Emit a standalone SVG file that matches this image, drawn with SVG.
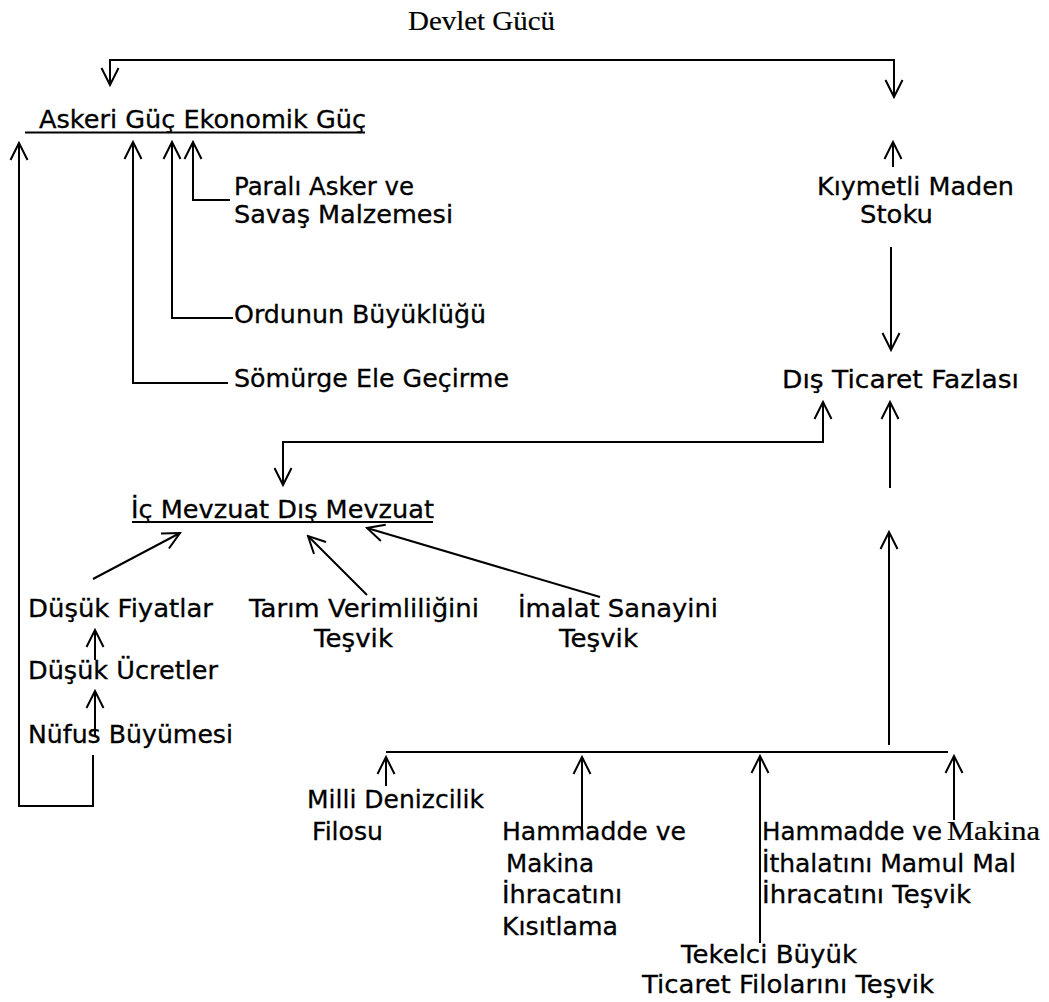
<svg xmlns="http://www.w3.org/2000/svg" width="1049" height="1002" viewBox="0 0 1049 1002">
<style>
.t{font-family:"DejaVu Sans",Verdana,sans-serif;font-size:24px;fill:#000;stroke:#000;stroke-width:0.3}
.s{font-family:"Liberation Serif","Times New Roman",serif;font-size:27px;fill:#000;stroke:#000;stroke-width:0.2}
.c{fill:none;stroke:#000;stroke-width:2}
</style>
<defs>
<marker id="ah" viewBox="0 0 20 20" refX="18" refY="10" markerWidth="20" markerHeight="20" markerUnits="userSpaceOnUse" orient="auto-start-reverse">
<path d="M1,1.5 L18,10 L1,18.5" fill="none" stroke="#000" stroke-width="2"/>
</marker>
</defs>
<rect width="1049" height="1002" fill="#fff"/>
<g id="connectors" class="c">
<path d="M110,85 L110,60 L894,60 L894,97" marker-start="url(#ah)" marker-end="url(#ah)"/>
<path d="M893,167 L893,142" marker-end="url(#ah)"/>
<path d="M891,247 L891,350" marker-end="url(#ah)"/>
<path d="M890,488 L890,402" marker-end="url(#ah)"/>
<path d="M889,745 L889,532" marker-end="url(#ah)"/>
<path d="M386,752 L948,752"/>
<path d="M386,786 L386,757" marker-end="url(#ah)"/>
<path d="M582,832 L582,757" marker-end="url(#ah)"/>
<path d="M760,943 L760,756" marker-end="url(#ah)"/>
<path d="M954,820 L954,756" marker-end="url(#ah)"/>
<path d="M283,485 L283,442 L823,442 L823,402" marker-start="url(#ah)" marker-end="url(#ah)"/>
<path d="M93,755 L93,806 L19,806 L19,143" marker-end="url(#ah)"/>
<path d="M228,383 L133,383 L133,142" marker-end="url(#ah)"/>
<path d="M233,318 L172,318 L172,142" marker-end="url(#ah)"/>
<path d="M230,200 L193,200 L193,142" marker-end="url(#ah)"/>
<path d="M95,660 L95,630" marker-end="url(#ah)"/>
<path d="M95,737 L95,691" marker-end="url(#ah)"/>
<path d="M93,579 L180,533" marker-end="url(#ah)"/>
<path d="M367,595 L308,536" marker-end="url(#ah)"/>
<path d="M600,597 L367,528" marker-end="url(#ah)"/>
</g>
<g id="devlet-gucu"><text class="s" x="408" y="30" textLength="147" lengthAdjust="spacingAndGlyphs">Devlet Gücü</text></g>
<g id="askeri-ekonomik-guc">
<text class="t" x="39" y="128" textLength="327" lengthAdjust="spacingAndGlyphs">Askeri Güç Ekonomik Güç</text>
<line class="c" x1="25" y1="132.5" x2="365" y2="132.5"/>
</g>
<g id="parali-asker"><text class="t" x="234" y="195" textLength="180" lengthAdjust="spacingAndGlyphs">Paralı Asker ve</text><text class="t" x="234" y="223" textLength="219" lengthAdjust="spacingAndGlyphs">Savaş Malzemesi</text></g>
<g id="ordunun-buyuklugu"><text class="t" x="234" y="323" textLength="252" lengthAdjust="spacingAndGlyphs">Ordunun Büyüklüğü</text></g>
<g id="somurge"><text class="t" x="234" y="387" textLength="275" lengthAdjust="spacingAndGlyphs">Sömürge Ele Geçirme</text></g>
<g id="kiymetli-maden"><text class="t" x="817" y="195" textLength="197" lengthAdjust="spacingAndGlyphs">Kıymetli Maden</text><text class="t" x="860" y="223" textLength="73" lengthAdjust="spacingAndGlyphs">Stoku</text></g>
<g id="dis-ticaret-fazlasi"><text class="t" x="782" y="388" textLength="237" lengthAdjust="spacingAndGlyphs">Dış Ticaret Fazlası</text></g>
<g id="ic-dis-mevzuat">
<text class="t" x="131" y="518" textLength="303" lengthAdjust="spacingAndGlyphs">İç Mevzuat Dış Mevzuat</text>
<line class="c" x1="132" y1="522" x2="433" y2="522"/>
</g>
<g id="dusuk-fiyatlar"><text class="t" x="28" y="617" textLength="185" lengthAdjust="spacingAndGlyphs">Düşük Fiyatlar</text></g>
<g id="tarim"><text class="t" x="249" y="617" textLength="230" lengthAdjust="spacingAndGlyphs">Tarım Verimliliğini</text><text class="t" x="314" y="647" textLength="79" lengthAdjust="spacingAndGlyphs">Teşvik</text></g>
<g id="imalat"><text class="t" x="518" y="617" textLength="200" lengthAdjust="spacingAndGlyphs">İmalat Sanayini</text><text class="t" x="559" y="647" textLength="79" lengthAdjust="spacingAndGlyphs">Teşvik</text></g>
<g id="dusuk-ucretler"><text class="t" x="28" y="679" textLength="190" lengthAdjust="spacingAndGlyphs">Düşük Ücretler</text></g>
<g id="nufus"><text class="t" x="28" y="743" textLength="205" lengthAdjust="spacingAndGlyphs">Nüfus Büyümesi</text></g>
<g id="milli-denizcilik"><text class="t" x="307" y="808" textLength="177" lengthAdjust="spacingAndGlyphs">Milli Denizcilik</text><text class="t" x="312" y="840" textLength="71" lengthAdjust="spacingAndGlyphs">Filosu</text></g>
<g id="hammadde-kisitlama"><text class="t" x="502" y="840" textLength="184" lengthAdjust="spacingAndGlyphs">Hammadde ve</text><text class="t" x="506" y="872" textLength="88" lengthAdjust="spacingAndGlyphs">Makina</text><text class="t" x="502" y="903" textLength="120" lengthAdjust="spacingAndGlyphs">İhracatını</text><text class="t" x="502" y="935" textLength="116" lengthAdjust="spacingAndGlyphs">Kısıtlama</text></g>
<g id="hammadde-ithalat"><text class="t" x="762" y="840" textLength="180" lengthAdjust="spacingAndGlyphs">Hammadde ve</text><text class="s" x="947" y="840" textLength="93" lengthAdjust="spacingAndGlyphs">Makina</text><text class="t" x="762" y="872" textLength="254" lengthAdjust="spacingAndGlyphs">İthalatını Mamul Mal</text><text class="t" x="762" y="903" textLength="209" lengthAdjust="spacingAndGlyphs">İhracatını Teşvik</text></g>
<g id="tekelci"><text class="t" x="681" y="963" textLength="176" lengthAdjust="spacingAndGlyphs">Tekelci Büyük</text><text class="t" x="642" y="993" textLength="292" lengthAdjust="spacingAndGlyphs">Ticaret Filolarını Teşvik</text></g>
</svg>
